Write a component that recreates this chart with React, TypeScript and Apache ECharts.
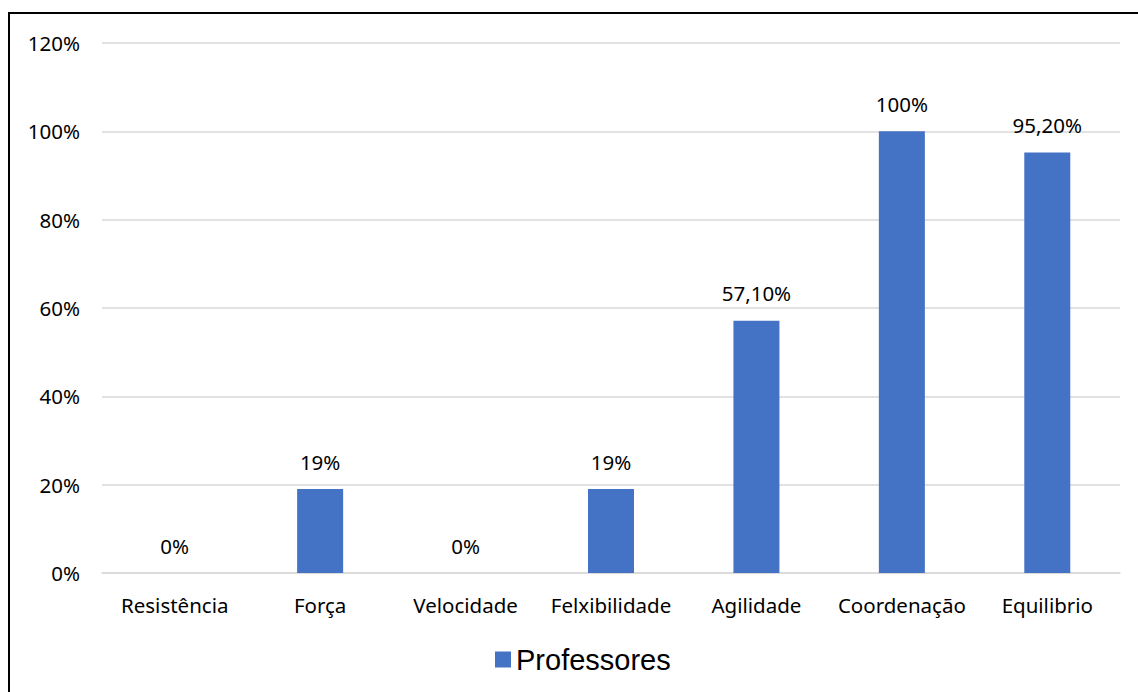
import React, { useEffect, useRef } from "react";
import * as echarts from "echarts";

const categories = ["Resistência", "Força", "Velocidade", "Felxibilidade", "Agilidade", "Coordenação", "Equilibrio"];
const professores = [0, 19, 0, 19, 57.1, 100, 95.2];
const valueLabels = ["0%", "19%", "0%", "19%", "57,10%", "100%", "95,20%"];
const seriesName = "Professores";

export default function App() {
  const ref = useRef<HTMLDivElement>(null);
  useEffect(() => {
    if (!ref.current) return;
    const chart = echarts.init(ref.current, null, { renderer: "svg" });
    const font = "'Noto Sans', sans-serif";
    chart.setOption({
      animation: false,
      backgroundColor: "#ffffff",
      grid: { left: 92, right: 18, top: 29, bottom: 119, containLabel: false },
      legend: {
        data: [seriesName],
        left: 480,
        top: 626,
        icon: "rect",
        itemWidth: 16,
        itemHeight: 16,
        itemGap: 10,
        textStyle: { fontFamily: "'Liberation Sans', Arial, sans-serif", fontSize: 29, color: "#000" },
      },
      xAxis: {
        type: "category",
        data: categories,
        axisLine: { show: true, lineStyle: { color: "#d9d9d9", width: 1.5 } },
        axisTick: { show: false },
        axisLabel: { interval: 0, margin: 21, fontFamily: font, fontSize: 20.5, color: "#000" },
      },
      yAxis: {
        type: "value",
        min: 0,
        max: 120,
        interval: 20,
        axisLine: { show: false },
        axisTick: { show: false },
        splitLine: { lineStyle: { color: "#d9d9d9", width: 1.5 } },
        axisLabel: { margin: 22, fontFamily: font, fontSize: 20.5, color: "#000", formatter: "{value}%" },
      },
      series: [
        {
          name: seriesName,
          type: "bar",
          data: professores,
          barWidth: 46,
          itemStyle: { color: "#4472c4" },
          label: {
            show: true,
            position: "top",
            distance: 17,
            fontFamily: font,
            fontSize: 20.5,
            color: "#000",
            formatter: (p: any) => valueLabels[p.dataIndex],
          },
        },
      ],
    });
    return () => chart.dispose();
  }, []);
  return (
    <div style={{ position: "fixed", left: 0, top: 0, width: 1138, height: 692, overflow: "hidden", background: "#fff" }}>
      <div style={{ position: "absolute", left: 8, top: 12, width: 1200, height: 800, border: "2px solid #000", boxSizing: "border-box" }}>
        <div ref={ref} style={{ position: "absolute", left: 0, top: 0, width: 1128, height: 678 }} />
      </div>
    </div>
  );
}
